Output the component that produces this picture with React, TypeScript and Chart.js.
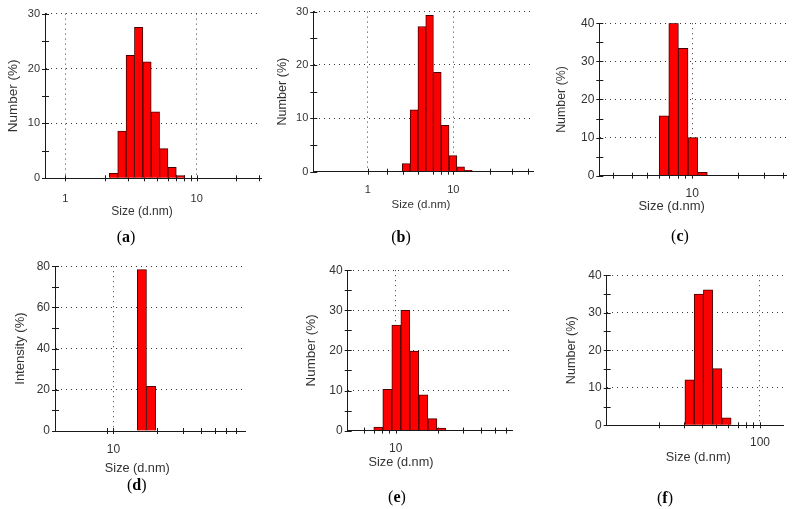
import React, { useEffect, useRef } from 'react';
import { Chart, registerables } from 'chart.js';

Chart.register(...registerables);

// ---------- data ----------
const A_SIZE = [2.328, 2.696, 3.122, 3.615, 4.187, 4.849, 5.615, 6.503, 7.531];
const A_NUMBER = [0.9, 8.6, 22.4, 27.5, 21.2, 12.1, 5.4, 2.0, 0.5];
const A_XTICKS = [1, 2, 3, 4, 5, 6, 7, 8, 9, 10, 20, 30];
const A_XLABELS = [1, 10];

const B_SIZE = [2.81, 3.47, 4.28, 5.28, 6.51, 8.03, 9.9, 12.2, 15.0];
const B_NUMBER = [1.5, 11.6, 27.2, 29.3, 18.6, 8.7, 3.0, 0.9, 0.25];
const B_XTICKS = [1, 1.7, 2.6, 3.9, 5.8, 7.2, 8.6, 10, 27, 48, 75];
const B_XLABELS = [1, 10];

const C_SIZE = [6.503, 7.531, 8.721, 10.1, 11.7];
const C_NUMBER = [15.7, 40.0, 33.4, 10.0, 0.9];
const C_XTICKS = [3, 4, 5, 6, 7, 8, 9, 10, 20, 30, 40];
const C_XLABELS = [10];

const D_SIZE = [15.69, 18.17];
const D_INTENSITY = [78.3, 21.7];
const D_XTICKS = [9, 10, 20, 30, 40, 50, 60, 70];
const D_XLABELS = [10];

const E_SIZE = [7.531, 8.721, 10.1, 11.7, 13.54, 15.69, 18.17, 21.04];
const E_NUMBER = [0.9, 10.3, 26.3, 30.0, 19.8, 8.9, 3.0, 0.6];
const E_XTICKS = [6, 7, 8, 9, 10, 20, 30, 40, 50, 60];
const E_XLABELS = [10];

const F_SIZE = [32.67, 37.84, 43.82, 50.75, 58.77];
const F_NUMBER = [12.1, 35.0, 36.1, 15.1, 2.0];
const F_XTICKS = [20, 30, 40, 50, 60, 70, 80, 90, 100];
const F_XLABELS = [100];

const X_TITLE = 'Size (d.nm)';

// ---------- layout / style ----------
const FONT = '"Liberation Sans", Arial, sans-serif';
const TEXT = '#333333';
const AXIS = '#1a1a1a';
const GRID = '#3a3a3a';
const BAR_FILL = '#ff0000';
const BAR_EDGE = '#4a0000';

type Panel = {
  key: string;
  sizes: number[];
  values: number[];
  xTicks: number[];
  xLabels: number[];
  yTitle: string;
  xMin: number;
  xMax: number;
  yMax: number;
  yStep: number;
  yMajor: number;
  area: { l: number; t: number; r: number; b: number };
  colLeft: number;
  yTitleX: number;
  xTitlePos: [number, number];
  captionPos: [number, number];
  tickSize: number;
  xTickPad: number;
  xTitleSize: number;
  yTitleSize: number;
};

const PANELS: Panel[] = [
  {
    key: 'a', sizes: A_SIZE, values: A_NUMBER, xTicks: A_XTICKS, xLabels: A_XLABELS, yTitle: 'Number (%)',
    xMin: 0.728, xMax: 30.9, yMax: 30, yStep: 5, yMajor: 10,
    area: { l: 45, t: 12, r: 261, b: 178.3 }, colLeft: 0, yTitleX: 13,
    xTitlePos: [142, 211], captionPos: [126, 237], tickSize: 11, xTickPad: 14, xTitleSize: 12, yTitleSize: 13.5,
  },
  {
    key: 'b', sizes: B_SIZE, values: B_NUMBER, xTicks: B_XTICKS, xLabels: B_XLABELS, yTitle: 'Number (%)',
    xMin: 0.2314, xMax: 85.3, yMax: 30, yStep: 5, yMajor: 10,
    area: { l: 313.3, t: 10, r: 533, b: 171.7 }, colLeft: 268, yTitleX: 283,
    xTitlePos: [421, 205], captionPos: [401, 237], tickSize: 11, xTickPad: 12, xTitleSize: 11.5, yTitleSize: 12.6,
  },
  {
    key: 'c', sizes: C_SIZE, values: C_NUMBER, xTicks: C_XTICKS, xLabels: C_XLABELS, yTitle: 'Number (%)',
    xMin: 2.426, xMax: 41.8, yMax: 40, yStep: 5, yMajor: 10,
    area: { l: 599.3, t: 21, r: 786, b: 175.7 }, colLeft: 540, yTitleX: 562,
    xTitlePos: [671.7, 205], captionPos: [680, 236], tickSize: 12, xTickPad: 11, xTitleSize: 13, yTitleSize: 12.4,
  },
  {
    key: 'd', sizes: D_SIZE, values: D_INTENSITY, xTicks: D_XTICKS, xLabels: D_XLABELS, yTitle: 'Intensity (%)',
    xMin: 3.95, xMax: 80.7, yMax: 80, yStep: 10, yMajor: 20,
    area: { l: 55, t: 264, r: 245, b: 431 }, colLeft: 0, yTitleX: 20,
    xTitlePos: [137.3, 468.3], captionPos: [136.7, 485], tickSize: 12, xTickPad: 11, xTitleSize: 12.7, yTitleSize: 13,
  },
  {
    key: 'e', sizes: E_SIZE, values: E_NUMBER, xTicks: E_XTICKS, xLabels: E_XLABELS, yTitle: 'Number (%)',
    xMin: 4.58, xMax: 66.4, yMax: 40, yStep: 5, yMajor: 10,
    area: { l: 347.7, t: 267.7, r: 512, b: 430.3 }, colLeft: 268, yTitleX: 311.7,
    xTitlePos: [401, 461.7], captionPos: [397, 497], tickSize: 12, xTickPad: 11, xTitleSize: 12.7, yTitleSize: 13.4,
  },
  {
    key: 'f', sizes: F_SIZE, values: F_NUMBER, xTicks: F_XTICKS, xLabels: F_XLABELS, yTitle: 'Number (%)',
    xMin: 8.77, xMax: 144.8, yMax: 40, yStep: 5, yMajor: 10,
    area: { l: 606.7, t: 272.7, r: 783.3, b: 425 }, colLeft: 540, yTitleX: 571.7,
    xTitlePos: [698.3, 456.7], captionPos: [665, 498], tickSize: 12, xTickPad: 10, xTitleSize: 12.7, yTitleSize: 12.6,
  },
];

// tick marks crossing the axes, drawn under the bars
const crossTicks = {
  id: 'crossTicks',
  beforeDatasetsDraw(chart: any, _args: any, opts: any) {
    const { ctx, chartArea, scales } = chart;
    const x = scales.x;
    const y = scales.y;
    ctx.save();
    ctx.strokeStyle = AXIS;
    ctx.lineWidth = 1;
    ctx.beginPath();
    for (const v of opts.xTicks as number[]) {
      const px = Math.round(x.getPixelForValue(v)) + 0.5;
      ctx.moveTo(px, chartArea.bottom - 3);
      ctx.lineTo(px, chartArea.bottom + 3);
    }
    for (const t of y.ticks) {
      const py = Math.round(y.getPixelForValue(t.value)) + 0.5;
      ctx.moveTo(chartArea.left - 3, py);
      ctx.lineTo(chartArea.left + 4, py);
    }
    ctx.stroke();
    ctx.restore();
  },
};

const TOP_PAD = 10;
const RIGHT_PAD = 16;
const BOTTOM_PAD = 2;
const X_BOX = 30;

function HistPanel({ p }: { p: Panel }) {
  const ref = useRef<HTMLCanvasElement | null>(null);
  const canvasTop = p.area.t - TOP_PAD;
  const width = Math.ceil(p.area.r - p.colLeft + RIGHT_PAD);
  const height = Math.ceil(p.area.b - canvasTop + X_BOX + BOTTOM_PAD);

  useEffect(() => {
    if (!ref.current) return;
    const lh = p.yTitleSize * 1.2;
    const scaleLeft = p.yTitleX - lh / 2 - p.colLeft;
    const yWidth = p.area.l - p.colLeft - scaleLeft;
    const rightPad = width - (p.area.r - p.colLeft);
    const bottomPad = height - (p.area.b - canvasTop) - X_BOX;

    const chart = new Chart(ref.current, {
      type: 'bar',
      data: {
        datasets: [
          {
            data: p.sizes.map((s, i) => ({ x: s, y: p.values[i] })),
            backgroundColor: BAR_FILL,
            borderColor: BAR_EDGE,
            borderWidth: 1,
            barPercentage: 1,
            categoryPercentage: 1,
          } as any,
        ],
      },
      options: {
        responsive: false,
        animation: false,
        events: [],
        layout: { padding: { left: scaleLeft, top: TOP_PAD, right: rightPad, bottom: bottomPad } },
        plugins: {
          legend: { display: false },
          tooltip: { enabled: false },
          crossTicks: { xTicks: p.xTicks },
        } as any,
        scales: {
          x: {
            type: 'logarithmic',
            min: p.xMin,
            max: p.xMax,
            offset: false,
            afterBuildTicks: (s: any) => {
              s.ticks = p.xLabels.map((v) => ({ value: v, major: true }));
            },
            afterFit: (s: any) => {
              s.height = X_BOX;
            },
            ticks: {
              autoSkip: false,
              maxRotation: 0,
              minRotation: 0,
              padding: p.xTickPad,
              color: TEXT,
              font: { family: FONT, size: p.tickSize },
              callback: (v: any) => String(v),
            },
            grid: { color: GRID, lineWidth: 1, drawTicks: false, offset: false },
            border: { display: true, color: AXIS, width: 1, dash: [1, 4], z: 1 },
          },
          y: {
            type: 'linear',
            min: 0,
            max: p.yMax,
            afterFit: (s: any) => {
              s.width = yWidth;
            },
            ticks: {
              stepSize: p.yStep,
              padding: 5,
              color: TEXT,
              font: { family: FONT, size: p.tickSize },
              callback: (v: any) => (Number(v) % p.yMajor === 0 ? String(v) : ''),
            },
            grid: {
              drawTicks: false,
              lineWidth: 1,
              color: (ctx: any) =>
                ctx.tick && ctx.tick.value > 0 && ctx.tick.value % p.yMajor === 0 ? GRID : 'rgba(0,0,0,0)',
            },
            border: { display: true, color: AXIS, width: 1, dash: [1, 4] },
            title: {
              display: true,
              text: p.yTitle,
              color: TEXT,
              padding: 0,
              font: { family: FONT, size: p.yTitleSize },
            },
          },
        },
      } as any,
      plugins: [crossTicks as any],
    });
    return () => chart.destroy();
  }, []);

  return (
    <>
      <canvas
        ref={ref}
        width={width}
        height={height}
        style={{ position: 'absolute', left: p.colLeft, top: canvasTop, width, height }}
      />
      <div
        style={{
          position: 'absolute',
          left: p.xTitlePos[0],
          top: p.xTitlePos[1],
          transform: 'translate(-50%, -50%)',
          font: `${p.xTitleSize}px ${FONT}`,
          color: TEXT,
          whiteSpace: 'nowrap',
          lineHeight: 1,
        }}
      >
        {X_TITLE}
      </div>
      <div
        style={{
          position: 'absolute',
          left: p.captionPos[0],
          top: p.captionPos[1],
          transform: 'translate(-50%, -50%)',
          font: '16px "Liberation Serif", "Times New Roman", serif',
          color: '#000',
          whiteSpace: 'nowrap',
          lineHeight: 1,
        }}
      >
        (<b>{p.key}</b>)
      </div>
    </>
  );
}

export default function App() {
  return (
    <div
      style={{
        position: 'fixed',
        left: 0,
        top: 0,
        width: 794,
        height: 509,
        background: '#ffffff',
        overflow: 'hidden',
      }}
    >
      {PANELS.map((p) => (
        <HistPanel key={p.key} p={p} />
      ))}
    </div>
  );
}
